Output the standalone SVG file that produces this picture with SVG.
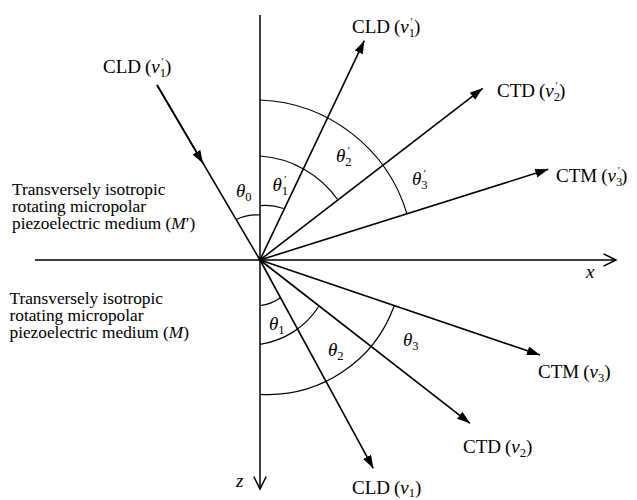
<svg xmlns="http://www.w3.org/2000/svg" width="637" height="500" viewBox="0 0 637 500">
<defs>
<marker id="ah" markerUnits="userSpaceOnUse" markerWidth="14" markerHeight="10" refX="13" refY="4.5" orient="auto"><path d="M0,0 L13,4.5 L0,9 z" fill="#000"/></marker>
<marker id="oh" markerUnits="userSpaceOnUse" markerWidth="16" markerHeight="16" refX="13" refY="7" orient="auto"><path d="M0.5,0.8 L13,7 L0.5,13.2" fill="none" stroke="#000" stroke-width="1.5"/></marker>
</defs>
<style>
text{font-family:"Liberation Serif","Times New Roman",serif;fill:#000}
.lbl{font-size:19px}
.med{font-size:17.3px}
.it{font-style:italic}
.sub{font-size:12.5px}
.pr{font-size:11px}
.ax{stroke:#000;stroke-width:1.5;fill:none}
.ray{stroke:#000;stroke-width:1.6;fill:none}
.arc{stroke:#000;stroke-width:1.2;fill:none}
</style>
<rect width="637" height="500" fill="#fff"/>
<g id="connectors">
<path class="ax" d="M35,260 L616,260" marker-end="url(#oh)"/>
<path class="ax" d="M260,15 L260,489" marker-end="url(#oh)"/>
<path class="ray" d="M157,85 L260,260"/>
<path class="ray" d="M157,85 L203,163.4" marker-end="url(#ah)"/>
<path class="ray" d="M260,260 L364.3,40.7" marker-end="url(#ah)"/>
<path class="ray" d="M260,260 L482.7,88.3" marker-end="url(#ah)"/>
<path class="ray" d="M260,260 L548.3,169.3" marker-end="url(#ah)"/>
<path class="ray" d="M260,260 L540,355" marker-end="url(#ah)"/>
<path class="ray" d="M260,260 L470,423.3" marker-end="url(#ah)"/>
<path class="ray" d="M260,260 L373.3,468.3" marker-end="url(#ah)"/>
<path class="arc" d="M236.2,219.5 A46,46 0 0 1 260,215"/>
<path class="arc" d="M260,205.7 A55,55 0 0 1 283.5,208.5"/>
<path class="arc" d="M260,156 A104,104 0 0 1 338,200"/>
<path class="arc" d="M260,100 A160,160 0 0 1 407,213.8"/>
<path class="arc" d="M260,305.7 A44,44 0 0 0 280.5,297.8"/>
<path class="arc" d="M260,344.3 A84,84 0 0 0 319,306"/>
<path class="arc" d="M260,394.3 A134,134 0 0 0 394.3,305.5"/>
</g>
<g id="axis-x"><text class="lbl it" x="586" y="278">x</text></g>
<g id="axis-z"><text class="lbl it" x="236" y="487">z</text></g>
<g id="medium-upper">
<text class="med" x="12" y="195">Transversely isotropic</text>
<text class="med" x="12" y="212">rotating micropolar</text>
<text class="med" x="12" y="229">piezoelectric medium (<tspan class="it">M</tspan>′)</text>
</g>
<g id="medium-lower">
<text class="med" x="9.5" y="304">Transversely isotropic</text>
<text class="med" x="9.5" y="321">rotating micropolar</text>
<text class="med" x="9.5" y="338">piezoelectric medium (<tspan class="it">M</tspan>)</text>
</g>
<g id="incident"><text class="lbl" x="103" y="73">CLD<tspan dx="4">(</tspan><tspan class="it">v</tspan><tspan class="sub" dy="4">1</tspan><tspan class="pr" dx="-4.5" dy="-12">′</tspan><tspan dx="1" dy="8">)</tspan></text></g>
<g id="refl-cld"><text class="lbl" x="352" y="33">CLD<tspan dx="4">(</tspan><tspan class="it">v</tspan><tspan class="sub" dy="4">1</tspan><tspan class="pr" dx="-4.5" dy="-12">′</tspan><tspan dx="1" dy="8">)</tspan></text></g>
<g id="refl-ctd"><text class="lbl" x="497" y="97">CTD<tspan dx="4">(</tspan><tspan class="it">v</tspan><tspan class="sub" dy="4">2</tspan><tspan class="pr" dx="-4.5" dy="-12">′</tspan><tspan dx="1" dy="8">)</tspan></text></g>
<g id="refl-ctm"><text class="lbl" x="556" y="182">CTM<tspan dx="4">(</tspan><tspan class="it">v</tspan><tspan class="sub" dy="4">3</tspan><tspan class="pr" dx="-4.5" dy="-12">′</tspan><tspan dx="1" dy="8">)</tspan></text></g>
<g id="tran-ctm"><text class="lbl" x="538" y="378">CTM<tspan dx="4">(</tspan><tspan class="it">v</tspan><tspan class="sub" dy="4">3</tspan><tspan dy="-4">)</tspan></text></g>
<g id="tran-ctd"><text class="lbl" x="463" y="453">CTD<tspan dx="4">(</tspan><tspan class="it">v</tspan><tspan class="sub" dy="4">2</tspan><tspan dy="-4">)</tspan></text></g>
<g id="tran-cld"><text class="lbl" x="352" y="494">CLD<tspan dx="4">(</tspan><tspan class="it">v</tspan><tspan class="sub" dy="3">1</tspan><tspan dy="-3">)</tspan></text></g>
<g id="theta0"><text class="lbl it" x="236" y="197">θ<tspan class="sub" style="font-style:normal" dy="4">0</tspan></text></g>
<g id="theta1p"><text class="lbl it" x="272.5" y="191">θ<tspan class="sub" style="font-style:normal" dy="4">1</tspan><tspan class="pr" dx="-4.5" dy="-12">′</tspan></text></g>
<g id="theta2p"><text class="lbl it" x="336" y="162">θ<tspan class="sub" style="font-style:normal" dy="4">2</tspan><tspan class="pr" dx="-4.5" dy="-12">′</tspan></text></g>
<g id="theta3p"><text class="lbl it" x="412" y="185">θ<tspan class="sub" style="font-style:normal" dy="4">3</tspan><tspan class="pr" dx="-4.5" dy="-12">′</tspan></text></g>
<g id="theta1"><text class="lbl it" x="269" y="330">θ<tspan class="sub" style="font-style:normal" dy="4">1</tspan></text></g>
<g id="theta2"><text class="lbl it" x="328" y="356">θ<tspan class="sub" style="font-style:normal" dy="4">2</tspan></text></g>
<g id="theta3"><text class="lbl it" x="403" y="346">θ<tspan class="sub" style="font-style:normal" dy="4">3</tspan></text></g>
</svg>
